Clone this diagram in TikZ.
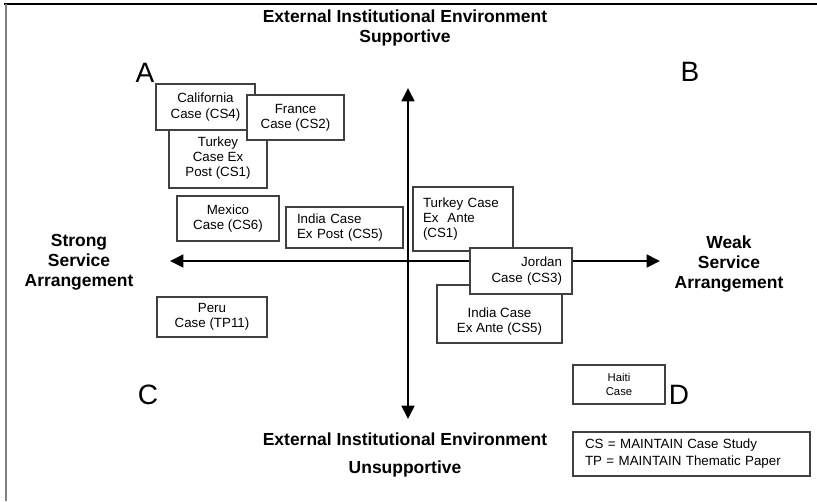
\documentclass[tikz,border=0pt]{standalone}
\usepackage{fontspec}
\setmainfont{Liberation Sans}
\usetikzlibrary{arrows.meta,positioning}

\tikzset{
  casebox/.style 2 args={draw=black!75, line width=0.8pt, fill=white, align=center,
    minimum width=#1, minimum height=#2, inner sep=2pt,
    font=\fontsize{10}{11.5}\selectfont},
  axislbl/.style={align=center, font=\fontsize{13.1}{15}\selectfont\bfseries},
  cornerlbl/.style={inner sep=0pt, font=\fontsize{21}{21}\selectfont},
  axisline/.style={line width=2pt,
    {Triangle[length=10pt,width=9.5pt]}-{Triangle[length=10pt,width=9.5pt]}}
}

\begin{document}
\begin{tikzpicture}[x=0.75pt,y=-0.75pt]
  \useasboundingbox (0,0) rectangle (817,501);

  % frame edges
  \draw[line width=1.2pt] (4,4) -- (817,4);
  \draw[gray, line width=1.5pt] (6,4) -- (6,501);

  % axes
  \coordinate (vTop) at (408,88);
  \coordinate (vBot) at (408,419);
  \coordinate (hLeft) at (170,261);
  \coordinate (hRight) at (660,261);
  \draw[axisline] (vTop) -- (vBot);
  \draw[axisline] (hLeft) -- (hRight);

  % axis labels
  \node[axislbl] (supLbl) at (405,28) {External Institutional Environment\\Supportive};
  \node[axislbl, font=\fontsize{13.1}{21}\selectfont\bfseries] (unsupLbl) at (405,455)
    {External Institutional Environment\\Unsupportive};
  \node[axislbl] (strongLbl) at (79,262) {Strong\\Service\\Arrangement};
  \node[axislbl] (weakLbl) at (729,264) {Weak\\Service\\Arrangement};

  % quadrant letters
  \node[cornerlbl] (qA) at (145,73) {A};
  \node[cornerlbl] (qB) at (690,72) {B};
  \node[cornerlbl] (qC) at (148,395) {C};
  \node[cornerlbl] (qD) at (679,395) {D};

  % quadrant A cases
  \node[casebox={73.5pt}{45pt}] (tkyPost) at (218,158) {Turkey\\Case Ex\\Post (CS1)};
  \node[casebox={74.25pt}{34.5pt}] (calif) at (205.5,107) {California\\Case (CS4)};
  \node[casebox={72.75pt}{33.75pt}] (france) at (295.5,117.5) {France\\Case (CS2)};
  \node[casebox={76.5pt}{33.75pt}] (mexico) at (228,218.5) {Mexico\\Case (CS6)};
  \node[casebox={87.75pt}{30.75pt}, text width=71.25pt, inner xsep=8.25pt, align=left]
    (indiaPost) at (344.5,227.5) {India Case\\Ex Post (CS5)};

  % quadrant C cases
  \node[casebox={82.5pt}{30pt}] (peru) at (212,317) {Peru\\Case (TP11)};

  % quadrant B / D cases
  \node[casebox={75pt}{48pt}, text width=60pt, inner xsep=7.5pt, align=left]
    (tkyAnte) at (463,219) {Turkey Case\\Ex~ Ante\\(CS1)};
  \node[casebox={93.75pt}{43.5pt}] (indiaAnte) at (499.5,314)
    {\rule{0pt}{19pt}India Case\\Ex Ante (CS5)};
  \node[casebox={76.5pt}{34.5pt}, text width=61.5pt, inner xsep=7.5pt, align=right]
    (jordan) at (521,271) {Jordan\\Case (CS3)};
  \node[casebox={69pt}{29.25pt}, font=\fontsize{8.5}{10}\selectfont] (haiti) at (619,384.5)
    {Haiti\\Case};

  % legend
  \node[casebox={177.75pt}{33pt}, text width=159.75pt, inner xsep=9pt, align=left,
    font=\fontsize{10}{12.75}\selectfont] (legend) at (691.5,454)
    {CS = MAINTAIN Case Study\\TP = MAINTAIN Thematic Paper};
\end{tikzpicture}
\end{document}
